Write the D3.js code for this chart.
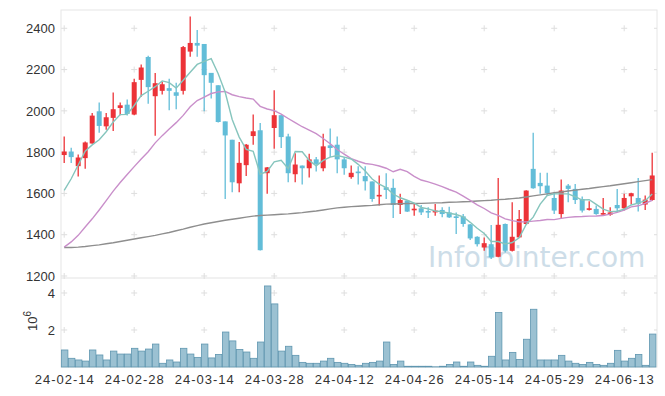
<!DOCTYPE html>
<html><head><meta charset="utf-8">
<script src="https://cdn.jsdelivr.net/npm/d3@7"></script>
<style>
body{margin:0;background:#fff;}
svg{display:block;}
text{font-family:"Liberation Sans",Arial,sans-serif;}
</style></head>
<body>
<svg id="chart" width="665" height="396"></svg>
<script>
// ---------- DATA ----------
const dates = ["24-02-14","24-02-15","24-02-16","24-02-19","24-02-20","24-02-21","24-02-22","24-02-23","24-02-26","24-02-27",
"24-02-28","24-02-29","24-03-04","24-03-05","24-03-06","24-03-07","24-03-08","24-03-11","24-03-12","24-03-13",
"24-03-14","24-03-15","24-03-18","24-03-19","24-03-20","24-03-21","24-03-22","24-03-25","24-03-26","24-03-27",
"24-03-28","24-03-29","24-04-01","24-04-02","24-04-03","24-04-04","24-04-05","24-04-08","24-04-09","24-04-11",
"24-04-12","24-04-15","24-04-16","24-04-17","24-04-18","24-04-19","24-04-22","24-04-23","24-04-24","24-04-25",
"24-04-26","24-04-29","24-04-30","24-05-02","24-05-03","24-05-07","24-05-08","24-05-09","24-05-10","24-05-13",
"24-05-14","24-05-16","24-05-17","24-05-20","24-05-21","24-05-22","24-05-23","24-05-24","24-05-27","24-05-28",
"24-05-29","24-05-30","24-05-31","24-06-03","24-06-04","24-06-05","24-06-07","24-06-10","24-06-11","24-06-12",
"24-06-13","24-06-14","24-06-17","24-06-18","24-06-19"];

const open = [1786,1803,1732,1771,1842,1998,1925,1966,2014,2030,
1982,2150,2261,2071,2097,2110,2090,2097,2287,2329,
2324,2184,2124,1949,1860,1649,1737,1878,1906,1698,
1917,1979,1876,1693,1735,1722,1765,1722,1833,1836,
1765,1679,1706,1684,1658,1588,1630,1627,1544,1565,
1520,1528,1515,1508,1520,1508,1489,1489,1450,1390,
1338,1354,1293,1452,1322,1387,1452,1719,1651,1638,
1578,1500,1638,1622,1573,1521,1525,1500,1497,1544,
1528,1586,1578,1546,1568];
const high = [1876,1821,1789,1852,1990,2040,1990,2089,2040,2055,
2155,2225,2267,2183,2141,2155,2136,2314,2457,2392,
2324,2184,2124,1949,1860,1849,1840,1982,1941,1728,
2100,1979,1889,1795,1735,1792,1776,1889,1914,1876,
1776,1735,1732,1732,1658,1687,1698,1671,1598,1567,
1552,1544,1533,1549,1533,1536,1508,1500,1452,1392,
1387,1447,1675,1454,1557,1520,1616,1894,1700,1700,
1606,1667,1646,1646,1585,1562,1541,1578,1533,1622,
1598,1603,1675,1590,1797];
const low = [1748,1747,1682,1719,1841,1894,1909,1902,1979,1977,
1979,2068,2035,1880,2079,2003,2008,2079,2262,2262,
1998,2060,1944,1573,1606,1606,1684,1836,1323,1598,
1816,1820,1654,1654,1643,1677,1706,1708,1776,1698,
1690,1671,1643,1614,1560,1541,1573,1481,1500,1510,
1492,1495,1481,1492,1484,1481,1403,1439,1374,1343,
1322,1282,1291,1314,1319,1385,1450,1623,1598,1590,
1500,1481,1557,1549,1508,1517,1497,1497,1492,1508,
1517,1546,1512,1520,1565];
const close = [1803,1776,1774,1847,1977,1927,1969,2008,2027,1985,
2139,2210,2115,2134,2129,2097,2073,2309,2329,2316,
2173,2136,1946,1881,1654,1748,1836,1901,1325,1726,
1979,1873,1698,1740,1722,1765,1743,1828,1820,1765,
1722,1700,1698,1659,1573,1593,1617,1544,1568,1512,
1526,1508,1510,1517,1500,1484,1481,1452,1382,1354,
1359,1290,1448,1322,1390,1476,1614,1625,1635,1601,
1517,1614,1622,1568,1517,1528,1500,1505,1508,1528,
1578,1601,1549,1570,1687];

// moving averages
const ma5 = [1615,1671,1738,1805,1835,1860,1899,1946,1982,1983,
2026,2074,2095,2117,2145,2137,2110,2148,2187,2225,
2240,2253,2180,2090,1958,1873,1813,1804,1693,1707,
1753,1761,1720,1803,1802,1760,1734,1760,1776,1784,
1776,1767,1741,1709,1670,1645,1628,1597,1579,1567,
1553,1532,1525,1515,1512,1504,1498,1487,1460,1431,
1406,1367,1367,1355,1362,1385,1450,1485,1548,1590,
1598,1598,1598,1584,1568,1570,1547,1524,1512,1514,
1524,1544,1553,1565,1597];
const ma20 = [1340,1365,1397,1437,1477,1520,1565,1611,1653,1692,
1730,1767,1802,1845,1880,1912,1943,1978,2020,2050,
2066,2084,2092,2094,2078,2069,2062,2057,2022,2009,
2001,1984,1963,1943,1923,1907,1890,1866,1841,1813,
1790,1769,1756,1745,1741,1733,1722,1705,1717,1706,
1683,1665,1656,1645,1633,1619,1606,1587,1566,1545,
1527,1506,1494,1477,1468,1462,1462,1466,1469,1474,
1473,1479,1484,1487,1488,1490,1491,1493,1500,1508,
1519,1535,1540,1552,1567];
const ma60 = [1338,1338,1340,1343,1347,1351,1356,1361,1367,1373,
1379,1385,1391,1397,1404,1411,1419,1427,1436,1444,
1452,1458,1464,1470,1475,1480,1485,1490,1493,1495,
1497,1499,1501,1504,1507,1511,1515,1520,1525,1530,
1533,1536,1538,1540,1542,1545,1548,1549,1550,1551,
1551,1552,1553,1554,1555,1557,1558,1560,1561,1563,
1565,1567,1570,1572,1575,1578,1583,1588,1593,1598,
1603,1607,1612,1616,1620,1624,1629,1633,1637,1642,
1647,1652,1657,1662,1667];

// volume in millions of shares (axis multiplier 10^6)
const volume = [0.92,0.47,0.38,0.32,0.92,0.65,0.38,0.86,0.70,0.70,
1.01,0.86,0.97,1.24,0.20,0.38,0.27,1.01,0.70,0.52,
1.24,0.49,0.68,1.89,1.41,0.95,0.81,0.47,1.35,4.38,
3.41,0.86,1.12,0.63,0.25,0.20,0.20,0.32,0.47,0.25,
0.20,0.14,0.09,0.20,0.25,0.32,1.35,0.14,0.32,0.04,
0.04,0.04,0.04,0.01,0.04,0.14,0.27,0.04,0.27,0.09,
0.04,0.58,2.95,0.38,0.79,0.41,1.50,3.12,0.38,0.38,
0.38,0.63,0.32,0.20,0.14,0.25,0.14,0.09,0.20,0.90,
0.32,0.47,0.68,0.09,1.78];

const xTickDates = ["24-02-14","24-02-28","24-03-14","24-03-28","24-04-12","24-04-26","24-05-14","24-05-29","24-06-13"];
const priceTicks = [1200,1400,1600,1800,2000,2200,2400];
const volTicks = [2,4];

// ---------- LAYOUT ----------
const svg = d3.select("#chart");
const L = 61, R = 657, T = 10, MID = 278, B = 367;

const x = d3.scaleBand().domain(dates).range([60.7, 655.7]).padding(0);
const cx = d => x(d) + x.bandwidth()/2;
const yP = d3.scaleLinear().domain([1190.3, 2488.6]).range([MID, T]);
const yV = d3.scaleLinear().domain([0, 4.81]).range([B, MID]);

const UP = "#ec3338", DOWN = "#62bdd8";
const GRID = "#dedede";

// frame
svg.append("rect").attr("x",L).attr("y",T).attr("width",R-L).attr("height",B-T)
  .attr("fill","none").attr("stroke","#e6e6e6").attr("stroke-width",1);
svg.append("line").attr("x1",L).attr("x2",R).attr("y1",MID).attr("y2",MID)
  .attr("stroke","#e3e3e3").attr("stroke-width",1.2);

// watermark
svg.append("text").attr("x",428).attr("y",267)
  .attr("font-size",28).attr("fill","#cddde8")
  .style("font-family","'DejaVu Sans',Verdana,sans-serif")
  .text("InfoPointer.com");

// grid crosses
const gx = xTickDates.map(cx);
const crossRows = priceTicks.map(yP).concat(volTicks.map(yV));
const cg = svg.append("g").attr("stroke",GRID).attr("stroke-width",1);
gx.forEach(px => crossRows.forEach(py => {
  cg.append("line").attr("x1",px-3).attr("x2",px+3).attr("y1",py).attr("y2",py);
  cg.append("line").attr("x1",px).attr("x2",px).attr("y1",py-3).attr("y2",py+3);
}));
crossRows.forEach(py => {
  cg.append("line").attr("x1",R-3).attr("x2",R).attr("y1",py).attr("y2",py);
});

// volume bars
svg.append("g").selectAll("rect").data(dates).join("rect")
  .attr("x", d => x(d)+0.8)
  .attr("width", x.bandwidth()-0.6)
  .attr("y", (d,i) => yV(volume[i]))
  .attr("height", (d,i) => B - yV(volume[i]))
  .attr("fill","#9bc1d2").attr("stroke","#5f96b0").attr("stroke-width",0.8);

// candles
const cgp = svg.append("g");
dates.forEach((d,i) => {
  const col = close[i] >= open[i] ? UP : DOWN;
  cgp.append("line").attr("x1",cx(d)).attr("x2",cx(d))
    .attr("y1",yP(high[i])).attr("y2",yP(low[i]))
    .attr("stroke",col).attr("stroke-width",1.3);
  const top = yP(Math.max(open[i],close[i]));
  const h = Math.max(1.6, Math.abs(yP(open[i]) - yP(close[i])));
  cgp.append("rect").attr("x",cx(d)-2.5).attr("width",5)
    .attr("y",top).attr("height",h).attr("fill",col);
});

// moving averages
const line = arr => d3.line().x((d,i)=>cx(dates[i])).y(d=>yP(d))(arr);
svg.append("path").attr("d",line(ma60)).attr("fill","none").attr("stroke","#8e8e8e").attr("stroke-width",1.4);
svg.append("path").attr("d",line(ma20)).attr("fill","none").attr("stroke","#c98fca").attr("stroke-width",1.4);
svg.append("path").attr("d",line(ma5)).attr("fill","none").attr("stroke","#86c5bd").attr("stroke-width",1.4);

// axes
const axP = svg.append("g").attr("transform",`translate(${L-6},0)`)
  .call(d3.axisLeft(yP).tickValues(priceTicks).tickFormat(d3.format("d")).tickSize(0).tickPadding(0));
const axV = svg.append("g").attr("transform",`translate(${L-6},0)`)
  .call(d3.axisLeft(yV).tickValues(volTicks).tickFormat(d3.format("d")).tickSize(0).tickPadding(0));
const axX = svg.append("g").attr("transform",`translate(0,${B})`)
  .call(d3.axisBottom(x).tickValues(xTickDates).tickSize(0).tickPadding(5));
[axP,axV,axX].forEach(a => {
  a.select(".domain").remove();
  a.selectAll("text").attr("font-size",13).attr("fill","#333")
    .style("font-family","'Liberation Sans',Arial,sans-serif");
});
axX.selectAll("text").attr("dy","0.95em").attr("textLength",59).attr("lengthAdjust","spacing");

// exponent label
const ex = svg.append("text").attr("transform","translate(37,321) rotate(-90)")
  .attr("text-anchor","middle").attr("font-size",13).attr("fill","#333");
ex.append("tspan").text("10");
ex.append("tspan").attr("font-size",10).attr("dy",-6).text("6");
</script>
</body></html>
